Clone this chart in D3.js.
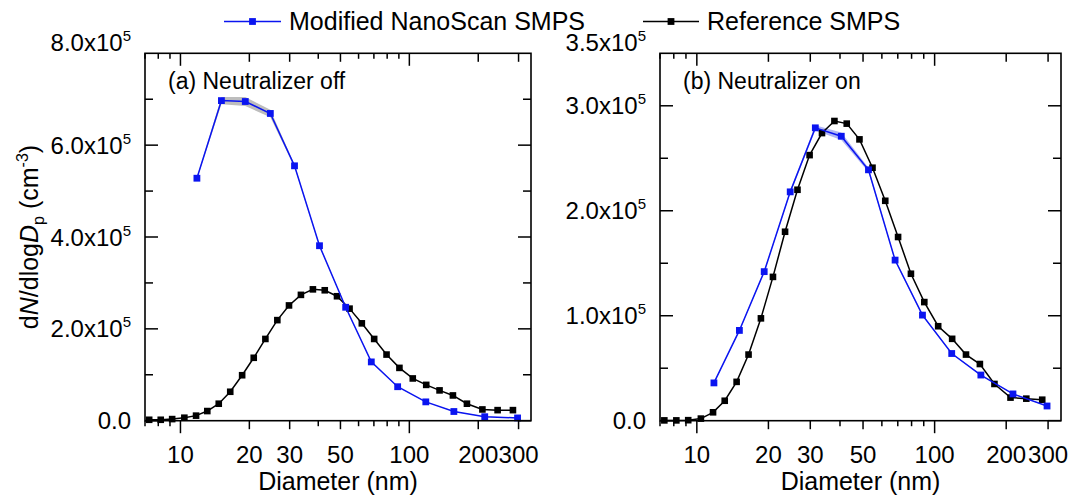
<!DOCTYPE html>
<html>
<head>
<meta charset="utf-8">
<script src="https://cdn.jsdelivr.net/npm/d3@7"></script>
<style>
  body { margin: 0; background: #fff; }
  svg { display: block; font-family: "Liberation Sans", Arial, sans-serif; }
</style>
</head>
<body>
<svg id="chart" width="1069" height="496"></svg>
<script>
// values are dN/dlogDp in units of 1e5 cm^-3
const refDiam = [7.3, 8.2, 9.2, 10.4, 11.7, 13.1, 14.7, 16.5, 18.6, 20.9, 23.5, 26.5, 29.8, 33.6, 37.9,
  42.7, 48.3, 54.8, 62, 70.2, 79.5, 90.5, 103.5, 118.5, 135.5, 155, 178.5, 208.5, 243, 283.5];
const refOff = [0.02, 0.02, 0.035, 0.065, 0.11, 0.21, 0.37, 0.63, 0.99, 1.37, 1.78, 2.19, 2.51, 2.74, 2.86,
  2.84, 2.71, 2.44, 2.12, 1.78, 1.44, 1.15, 0.92, 0.78, 0.66, 0.55, 0.37, 0.245, 0.23, 0.23];
const refOn = [0.003, 0.003, 0.005, 0.02, 0.08, 0.19, 0.37, 0.63, 0.975, 1.37, 1.80, 2.20, 2.53, 2.74, 2.855,
  2.83, 2.68, 2.41, 2.095, 1.75, 1.40, 1.13, 0.90, 0.78, 0.63, 0.54, 0.35, 0.22, 0.21, 0.20];

const nanoDiam = [11.8, 15.1, 19.2, 24.7, 31.5, 40.5, 52.7, 68.2, 88.9, 118, 156.5, 213.5, 297];
const nanoOff = [5.28, 6.97, 6.95, 6.69, 5.55, 3.81, 2.47, 1.28, 0.74, 0.41, 0.20, 0.087, 0.06];
const nanoOffErr = [0.02, 0.08, 0.1, 0.08, 0.03, 0.02, 0.01, 0.01, 0.005, 0.005, 0.005, 0.003, 0.003];
const nanoOn = [0.36, 0.86, 1.42, 2.18, 2.79, 2.71, 2.39, 1.53, 1.006, 0.64, 0.435, 0.255, 0.14];
const nanoOnErr = [0.005, 0.01, 0.01, 0.015, 0.025, 0.035, 0.02, 0.01, 0.01, 0.005, 0.005, 0.005, 0.003];

const xDecadeTicks = [10, 100];
const xLabelTicks = [10, 20, 30, 50, 100, 200, 300];
const xMinorTicks = [7, 8, 9, 40, 60, 70, 80, 90];

const yTicksOff = [0, 2, 4, 6, 8];
const yMinorOff = [1, 3, 5, 7];
const yTicksOn = [0, 1, 2, 3, 3.5];
const yMinorOn = [0.5, 1.5, 2.5];

const blue = '#0a14f0', black = '#000';

const svg = d3.select('#chart');

function drawPanel(p) {
  const x = d3.scaleLog().domain([7, 340]).range([p.left, p.right]);
  const y = d3.scaleLinear().domain([0, p.yMax]).range([p.bottom, p.top]);
  const g = svg.append('g');

  // uncertainty band
  const band = d3.area()
    .x((d, i) => x(nanoDiam[i]))
    .y0((d, i) => y(d - p.err[i]))
    .y1((d, i) => y(d + p.err[i]));
  g.append('path').datum(p.nano)
    .attr('d', band)
    .attr('fill', p.bandColor)
    .attr('stroke', 'none');

  const line = d3.line();

  g.append('path')
    .datum(refDiam.map((d, i) => [x(d), y(p.ref[i])]))
    .attr('d', line)
    .attr('fill', 'none').attr('stroke', black).attr('stroke-width', 1.5);
  g.selectAll('rect.ref').data(p.ref).enter().append('rect')
    .attr('class', 'ref')
    .attr('x', (d, i) => x(refDiam[i]) - 3.3)
    .attr('y', d => y(d) - 3.3)
    .attr('width', 6.6).attr('height', 6.6)
    .attr('fill', black);

  g.append('path')
    .datum(nanoDiam.map((d, i) => [x(d), y(p.nano[i])]))
    .attr('d', line)
    .attr('fill', 'none').attr('stroke', blue).attr('stroke-width', 1.5);
  g.selectAll('rect.nano').data(p.nano).enter().append('rect')
    .attr('class', 'nano')
    .attr('x', (d, i) => x(nanoDiam[i]) - 3.4)
    .attr('y', d => y(d) - 3.4)
    .attr('width', 6.8).attr('height', 6.8)
    .attr('fill', blue);

  // frame
  g.append('rect')
    .attr('x', p.left).attr('y', p.top)
    .attr('width', p.right - p.left).attr('height', p.bottom - p.top)
    .attr('fill', 'none').attr('stroke', black).attr('stroke-width', 1.6);

  // x ticks: outside at the bottom, inside at the top
  const xTickLen = d => xDecadeTicks.includes(d) ? 12.5 : (xLabelTicks.includes(d) ? 8.5 : 5.5);
  const allX = xLabelTicks.concat(xMinorTicks);
  g.selectAll('line.xb').data(allX).enter().append('line')
    .attr('x1', d => x(d)).attr('x2', d => x(d))
    .attr('y1', p.bottom).attr('y2', d => p.bottom + xTickLen(d))
    .attr('stroke', black).attr('stroke-width', 1.5);
  g.selectAll('line.xt').data(allX).enter().append('line')
    .attr('x1', d => x(d)).attr('x2', d => x(d))
    .attr('y1', p.top).attr('y2', d => p.top + xTickLen(d))
    .attr('stroke', black).attr('stroke-width', 1.5);
  g.selectAll('text.xl').data(xLabelTicks).enter().append('text')
    .attr('x', d => x(d)).attr('y', 463)
    .attr('text-anchor', 'middle').attr('font-size', 24)
    .text(d => d);

  // y ticks: inside on both sides
  const yTick = (vals, len) => {
    vals.forEach(v => {
      if (v === p.yMax) return;
      g.append('line').attr('x1', p.left).attr('x2', p.left + len)
        .attr('y1', y(v)).attr('y2', y(v)).attr('stroke', black).attr('stroke-width', 1.5);
      g.append('line').attr('x1', p.right).attr('x2', p.right - len)
        .attr('y1', y(v)).attr('y2', y(v)).attr('stroke', black).attr('stroke-width', 1.5);
    });
  };
  yTick(p.yTicks, 13);
  yTick(p.yMinor, 8);

  p.yTicks.forEach(v => {
    const t = g.append('text')
      .attr('x', p.left - 14)
      .attr('y', v === p.yMax ? p.top - 2 : y(v) + 8.5)
      .attr('text-anchor', 'end').attr('font-size', 24);
    if (v === 0) {
      t.text('0.0');
    } else {
      t.append('tspan').text(v.toFixed(1) + 'x10');
      t.append('tspan').attr('dy', -10).attr('font-size', 15).text('5');
    }
  });

  svg.append('text')
    .attr('x', p.left + 23).attr('y', 89)
    .attr('font-size', 23)
    .text(p.title);

  svg.append('text')
    .attr('x', (p.left + p.right) / 2).attr('y', 490)
    .attr('text-anchor', 'middle').attr('font-size', 25)
    .text('Diameter (nm)');
}

drawPanel({
  left: 145, right: 531, top: 53.3, bottom: 420.7, yMax: 8,
  yTicks: yTicksOff, yMinor: yMinorOff,
  ref: refOff, nano: nanoOff, err: nanoOffErr, bandColor: '#bdbdbd',
  title: '(a) Neutralizer off'
});
drawPanel({
  left: 660, right: 1061, top: 53.3, bottom: 420.7, yMax: 3.5,
  yTicks: yTicksOn, yMinor: yMinorOn,
  ref: refOn, nano: nanoOn, err: nanoOnErr, bandColor: '#b0b6f4',
  title: '(b) Neutralizer on'
});

// y axis title
const yt = svg.append('text')
  .attr('transform', 'translate(38,237) rotate(-90)')
  .attr('text-anchor', 'middle').attr('font-size', 25);
yt.append('tspan').text('d');
yt.append('tspan').attr('font-style', 'italic').text('N');
yt.append('tspan').text('/dlog');
yt.append('tspan').attr('font-style', 'italic').text('D');
yt.append('tspan').attr('dy', 6).attr('font-size', 16).text('p');
yt.append('tspan').attr('dy', -6).text(' (cm');
yt.append('tspan').attr('dy', -10).attr('font-size', 16).text('-3');
yt.append('tspan').attr('dy', 10).text(')');

// legend
const legend = [
  { name: 'Modified NanoScan SMPS', color: blue, x0: 224, x1: 281, tx: 289 },
  { name: 'Reference SMPS', color: black, x0: 643, x1: 699, tx: 707 }
];
const lg = svg.append('g');
legend.forEach(l => {
  lg.append('line').attr('x1', l.x0).attr('x2', l.x1).attr('y1', 21.5).attr('y2', 21.5)
    .attr('stroke', l.color).attr('stroke-width', 1.5);
  lg.append('rect').attr('x', (l.x0 + l.x1) / 2 - 3.4).attr('y', 21.5 - 3.4)
    .attr('width', 6.8).attr('height', 6.8).attr('fill', l.color);
  lg.append('text').attr('x', l.tx).attr('y', 30).attr('font-size', 25).text(l.name);
});
</script>
</body>
</html>
